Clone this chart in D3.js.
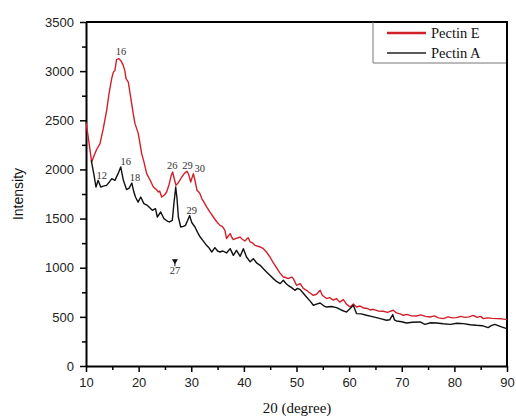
<!DOCTYPE html>
<html><head><meta charset="utf-8">
<script src="https://cdn.jsdelivr.net/npm/d3@7"></script>
<style>body{margin:0;background:#fff}svg{display:block}</style>
</head><body>
<svg id="c" width="516" height="419"></svg>
<script>
const pectinE = [
[10,2480],[10.5,2300],[11.08,2075],[11.6,2150],[12.0,2200],[12.66,2262],[13.3,2420],[13.93,2601],[14.4,2780],[14.88,2924],[15.2,2990],[15.5,3008],[15.8,3117],[16.27,3127],[16.7,3100],[17.08,3059],[17.4,3000],[17.6,2924],[18.04,2889],[18.68,2669],[19.0,2560],[19.31,2466],[19.6,2420],[19.94,2364],[20.58,2161],[21.0,2080],[21.53,1957],[22.2,1890],[22.8,1821],[23.3,1800],[23.75,1770],[24.0,1780],[24.38,1719],[24.9,1740],[25.33,1770],[25.8,1850],[26.2,1940],[26.46,1974],[26.8,1900],[27.1,1838],[27.6,1870],[28.2,1923],[28.7,1960],[29.2,1981],[29.5,1950],[29.9,1872],[30.4,1957],[30.7,1890],[31.1,1787],[31.6,1760],[32.0,1703],[32.5,1660],[32.93,1620],[33.5,1570],[34.2,1516],[34.8,1470],[35.46,1431],[35.9,1420],[36.4,1380],[36.7,1296],[37.0,1320],[37.4,1347],[37.7,1310],[38.0,1286],[38.6,1300],[39.26,1312],[39.7,1290],[40.2,1272],[40.8,1306],[41.2,1262],[41.7,1250],[42.1,1228],[43.1,1211],[43.7,1194],[44.3,1160],[44.96,1109],[45.6,1050],[46.2,1000],[46.8,950],[47.5,905],[48.0,900],[48.4,889],[49.1,905],[49.4,889],[50.0,821],[50.7,838],[51.3,790],[51.9,770],[52.5,745],[53.2,719],[53.8,730],[54.5,770],[54.9,720],[55.7,686],[56.3,695],[57.0,670],[57.6,686],[58.2,650],[58.9,676],[59.5,630],[60.2,600],[60.8,630],[61.4,600],[62.1,610],[62.8,590],[63.5,585],[64.0,570],[64.6,577],[65.5,560],[66.5,557],[67.3,545],[68.0,560],[68.4,567],[69.0,540],[69.7,530],[70.3,516],[71.0,525],[71.8,510],[72.8,509],[73.6,520],[74.5,505],[75.4,499],[76.2,510],[77.0,490],[77.9,482],[78.8,500],[79.6,490],[80.4,492],[81.2,505],[82.0,495],[82.8,500],[83.6,516],[84.3,495],[85.0,505],[85.5,482],[86.3,490],[87.2,485],[88.0,482],[89.0,480],[90.0,472]
];
const pectinA = [
[11.0,2093],[11.5,1950],[11.9,1821],[12.3,1889],[12.8,1821],[13.3,1830],[13.9,1838],[14.4,1870],[14.9,1906],[15.5,1889],[16.1,1957],[16.6,2025],[17.1,1889],[17.7,1795],[18.2,1810],[18.7,1862],[19.1,1770],[19.4,1719],[19.9,1668],[20.4,1719],[21.0,1652],[21.5,1640],[21.97,1618],[22.6,1584],[23.2,1601],[23.55,1516],[24.2,1567],[24.8,1500],[25.3,1480],[25.8,1465],[26.4,1482],[26.7,1650],[27.05,1821],[27.3,1700],[27.55,1516],[28.0,1414],[28.5,1420],[28.9,1431],[29.3,1480],[29.7,1530],[30.1,1460],[30.7,1414],[31.2,1360],[31.7,1312],[32.3,1270],[32.9,1228],[33.4,1200],[33.9,1160],[34.5,1204],[35.0,1170],[35.46,1160],[36.0,1170],[36.7,1150],[37.4,1194],[38.0,1126],[38.6,1177],[39.3,1116],[39.9,1194],[40.5,1109],[41.2,1060],[41.8,1092],[42.4,1050],[43.1,1024],[43.7,990],[44.3,956],[45.0,920],[45.6,889],[46.2,860],[46.9,838],[47.5,872],[48.0,840],[48.4,821],[49.0,800],[49.7,770],[50.2,790],[50.7,777],[51.3,740],[51.9,702],[52.6,660],[53.2,618],[53.8,630],[54.5,641],[55.1,615],[55.7,600],[56.7,605],[57.6,594],[58.5,570],[59.5,549],[60.2,584],[60.8,618],[61.4,533],[62.3,530],[63.3,516],[64.2,505],[65.2,492],[66.1,480],[67.1,465],[67.7,470],[68.3,523],[68.6,470],[69.0,458],[70.0,450],[70.9,438],[72.0,445],[73.5,448],[74.4,424],[75.5,440],[76.6,438],[77.9,430],[79.2,424],[80.5,435],[81.7,431],[83.0,420],[84.2,414],[85.3,410],[86.4,391],[87.0,410],[87.7,424],[88.8,400],[89.95,380]
];
const seriesNames = ["Pectin E", "Pectin A"];
const xTicks = [10,20,30,40,50,60,70,80,90];
const xMinor = [15,25,35,45,55,65,75,85];
const yTicks = [0,500,1000,1500,2000,2500,3000,3500];
const yMinor = [250,750,1250,1750,2250,2750,3250];
const labelsE = [[16.65,3161,"16"],[26.4,2001,"26"],[29.3,2001,"29"],[31.6,1971,"30"]];
const labelsA = [[13.0,1899,"12"],[17.54,2049,"16"],[19.31,1879,"18"],[30.08,1550,"29"]];
const arrowLabel = [26.9, 933, "27"];

const W = 516, H = 419;
const m = {l:86, r:9, t:22, b:53};
const svg = d3.select("#c");
const x = d3.scaleLinear().domain([10,90]).range([m.l, W - m.r]);
const y = d3.scaleLinear().domain([0,3500]).range([H - m.b, m.t]);
const red = "#d2202a";
const fmt = d3.format("d");

// minor ticks
svg.append("g").attr("transform",`translate(0,${H-m.b})`)
  .call(d3.axisBottom(x).tickValues(xMinor).tickSize(4).tickFormat(""))
  .call(g=>g.select(".domain").remove())
  .call(g=>g.selectAll("line").attr("stroke","#000").attr("stroke-width",1.5));
svg.append("g").attr("transform",`translate(${m.l},0)`)
  .call(d3.axisLeft(y).tickValues(yMinor).tickSize(4).tickFormat(""))
  .call(g=>g.select(".domain").remove())
  .call(g=>g.selectAll("line").attr("stroke","#000").attr("stroke-width",1.5));

// major axes
const xa = svg.append("g").attr("transform",`translate(0,${H-m.b})`)
  .call(d3.axisBottom(x).tickValues(xTicks).tickFormat(fmt).tickSize(6).tickPadding(6).tickSizeOuter(0));
const ya = svg.append("g").attr("transform",`translate(${m.l},0)`)
  .call(d3.axisLeft(y).tickValues(yTicks).tickFormat(fmt).tickSize(6).tickPadding(6).tickSizeOuter(0));
[xa,ya].forEach(g=>{
  g.select(".domain").attr("stroke","#000").attr("stroke-width",2);
  g.selectAll(".tick line").attr("stroke","#000").attr("stroke-width",1.5);
  g.selectAll(".tick text").attr("font-family","'Liberation Sans', Arial, sans-serif")
   .attr("font-size",13).attr("fill","#222");
});

// frame top/right
svg.append("line").attr("x1",m.l).attr("x2",W-m.r).attr("y1",m.t).attr("y2",m.t)
  .attr("stroke","#000").attr("stroke-width",2);
svg.append("line").attr("x1",W-m.r).attr("x2",W-m.r).attr("y1",m.t-1).attr("y2",H-m.b)
  .attr("stroke","#000").attr("stroke-width",2);

const line = d3.line().x(d=>x(d[0])).y(d=>y(d[1]));
svg.append("path").datum(pectinE).attr("d",line).attr("fill","none")
  .attr("stroke",red).attr("stroke-width",1.4).attr("stroke-linejoin","round");
svg.append("path").datum(pectinA).attr("d",line).attr("fill","none")
  .attr("stroke","#111").attr("stroke-width",1.4).attr("stroke-linejoin","round");

// peak labels
const serif = "'Liberation Serif','Times New Roman',serif";
svg.selectAll("text.le").data(labelsE.concat(labelsA)).join("text")
  .attr("x",d=>x(d[0])).attr("y",d=>y(d[1]))
  .attr("text-anchor","middle").attr("font-family",serif).attr("font-size",10.5)
  .attr("fill","#333").text(d=>d[2]);
// arrow + 27
const ax = x(arrowLabel[0]), ay = y(arrowLabel[1]);
svg.append("path")
  .attr("d",`M${ax-3},${ay-15}L${ax+3},${ay-15}L${ax},${ay-10}Z`).attr("fill","#111");
svg.append("line").attr("x1",ax).attr("x2",ax).attr("y1",ay-15).attr("y2",ay-8)
  .attr("stroke","#111").attr("stroke-width",1);
svg.append("text").attr("x",ax).attr("y",ay).attr("text-anchor","middle")
  .attr("font-family",serif).attr("font-size",10.5).attr("fill","#333").text(arrowLabel[2]);

// legend
const lx0 = 373, ly1 = 63;
svg.append("path").attr("d",`M${lx0},${m.t}V${ly1}H${W-m.r-1}`)
  .attr("fill","none").attr("stroke","#777").attr("stroke-width",1);
const legColors = [red,"#222"], legW = [2.6,1.3];
seriesNames.forEach((n,i)=>{
  const yy = 33 + i*20;
  svg.append("line").attr("x1",387).attr("x2",426).attr("y1",yy).attr("y2",yy)
    .attr("stroke",legColors[i]).attr("stroke-width",legW[i]);
  svg.append("text").attr("x",431).attr("y",yy+5).attr("font-family",serif)
    .attr("font-size",14.5).attr("fill","#111").text(n);
});

// axis titles
svg.append("text").attr("x",297).attr("y",413).attr("text-anchor","middle")
  .attr("font-family",serif).attr("font-size",15).attr("fill","#111").text("20 (degree)");
svg.append("text").attr("transform",`translate(23,194) rotate(-90)`).attr("text-anchor","middle")
  .attr("font-family","'Liberation Sans', Arial, sans-serif").attr("font-size",14).attr("fill","#111").text("Intensity");
</script>
</body></html>
